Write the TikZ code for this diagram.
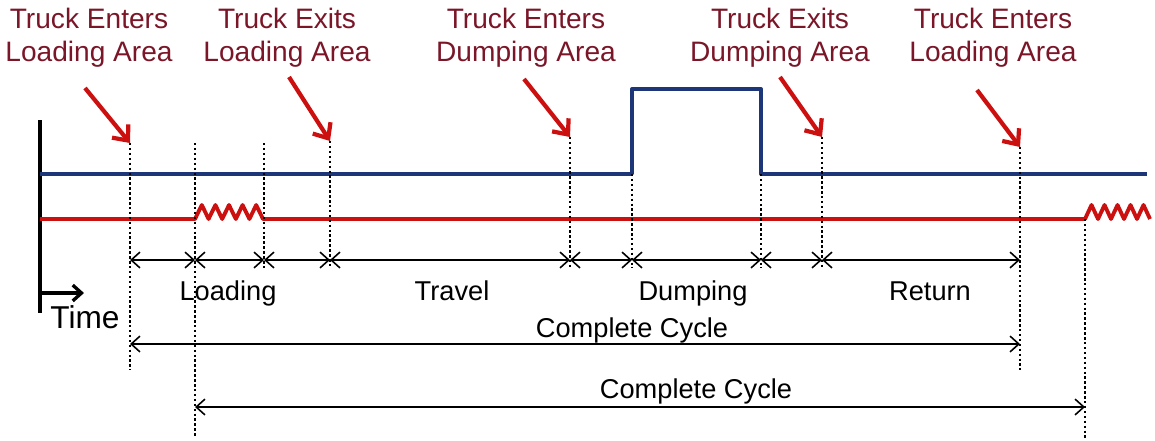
\documentclass[tikz,border=0pt]{standalone}
\usepackage{fontspec}
\setmainfont{Liberation Sans}
\usetikzlibrary{arrows.meta}
\definecolor{navy}{RGB}{28,54,120}
\definecolor{cred}{RGB}{204,16,16}
\definecolor{tred}{RGB}{122,22,40}
\tikzset{
  hdr/.style={align=center,text=tred,font=\fontsize{16}{18.7}\selectfont,inner sep=0pt},
  lbl/.style={font=\fontsize{15.5}{18}\selectfont,anchor=base,inner sep=0pt},
  pointer/.style={draw=cred,line width=2.4pt,-{Straight Barb[length=7pt,width=12pt]}},
  guide/.style={line width=1.5pt,dash pattern=on 1.4pt off 1.4pt},
  dim/.style={line width=0.9pt,{Straight Barb[length=5pt,width=9pt]}-{Straight Barb[length=5pt,width=9pt]}},
  blueline/.style={draw=navy,line width=1.9pt,line join=round},
  redline/.style={draw=cred,line width=2.2pt,line join=round},
  axis/.style={line width=1.9pt},
}
\begin{document}
\begin{tikzpicture}[x=0.02cm,y=-0.02cm]
\useasboundingbox (0,0) rectangle (1155,440);

% header labels
\node[hdr] (h1) at (89,38) {Truck Enters\\Loading Area};
\node[hdr] (h2) at (287,38) {Truck Exits\\Loading Area};
\node[hdr] (h3) at (526,38) {Truck Enters\\Dumping Area};
\node[hdr] (h4) at (780,38) {Truck Exits\\Dumping Area};
\node[hdr] (h5) at (993,38) {Truck Enters\\Loading Area};

% guide line tops and bottoms
\coordinate (g1t) at (130,143);  \coordinate (g1b) at (130,370);
\coordinate (g2t) at (195,143);  \coordinate (g2b) at (195,438);
\coordinate (g3t) at (264,143);  \coordinate (g3b) at (264,268);
\coordinate (g4t) at (330,141);  \coordinate (g4b) at (330,268);
\coordinate (g5t) at (570,137);  \coordinate (g5b) at (570,268);
\coordinate (g6t) at (632,174);  \coordinate (g6b) at (632,268);
\coordinate (g7t) at (761,174);  \coordinate (g7b) at (761,268);
\coordinate (g8t) at (822,137);  \coordinate (g8b) at (822,268);
\coordinate (g9t) at (1020,147); \coordinate (g9b) at (1020,370);
\coordinate (g10t) at (1085,219); \coordinate (g10b) at (1085,438);

% axis and time arrow
\coordinate (ax1) at (40,120); \coordinate (ax2) at (40,313);
\coordinate (ta1) at (40,293); \coordinate (ta2) at (84,293);
\draw[axis] (ax1) -- (ax2);
\draw[axis,-{Straight Barb[length=5pt,width=9pt]}] (ta1) -- (ta2);
\node[font=\fontsize{18}{20}\selectfont,anchor=base west,inner sep=0pt] (time) at (50,328) {Time};

% blue signal
\draw[blueline] (40,174) -- (632,174) -- (632,89) -- (761,89) -- (761,174) -- (1147,174);

% red signal
\draw[redline] (40,219) -- (195,219)
  foreach \i in {1,...,5} { -- ++(6.8,-14) -- ++(6.8,14) }
  -- (1085,219)
  foreach \i in {1,...,5} { -- ++(6.5,-14) -- ++(6.5,14) };

% guides
\foreach \k in {1,...,10} { \draw[guide] (g\k t) -- (g\k b); }

% pointers
\coordinate (p1) at (85,88);
\coordinate (p2) at (289,77);
\coordinate (p3) at (524,79);
\coordinate (p4) at (780,77);
\coordinate (p5) at (977,90);
\draw[pointer] (p1) -- (g1t);
\draw[pointer] (p2) -- (g4t);
\draw[pointer] (p3) -- (g5t);
\draw[pointer] (p4) -- (g8t);
\draw[pointer] (p5) -- (g9t);

% dimension row
\coordinate (d1) at (130,260);
\coordinate (d2) at (195,260);
\coordinate (d3) at (264,260);
\coordinate (d4) at (330,260);
\coordinate (d5) at (570,260);
\coordinate (d6) at (632,260);
\coordinate (d7) at (761,260);
\coordinate (d8) at (822,260);
\coordinate (d9) at (1020,260);
\foreach \a/\b in {1/2,2/3,3/4,4/5,5/6,6/7,7/8,8/9} { \draw[dim] (d\a) -- (d\b); }

\node[lbl] (lload) at (228,300) {Loading};
\node[lbl] (ltrav) at (452,300) {Travel};
\node[lbl] (ldump) at (693,300) {Dumping};
\node[lbl] (lret)  at (930,300) {Return};

% complete cycles
\coordinate (c1a) at (130,344); \coordinate (c1b) at (1020,344);
\coordinate (c2a) at (195,407); \coordinate (c2b) at (1085,407);
\draw[dim] (c1a) -- (c1b);
\draw[dim] (c2a) -- (c2b);
\node[lbl] (lc1) at (632,337) {Complete Cycle};
\node[lbl] (lc2) at (696,398) {Complete Cycle};
\end{tikzpicture}
\end{document}
